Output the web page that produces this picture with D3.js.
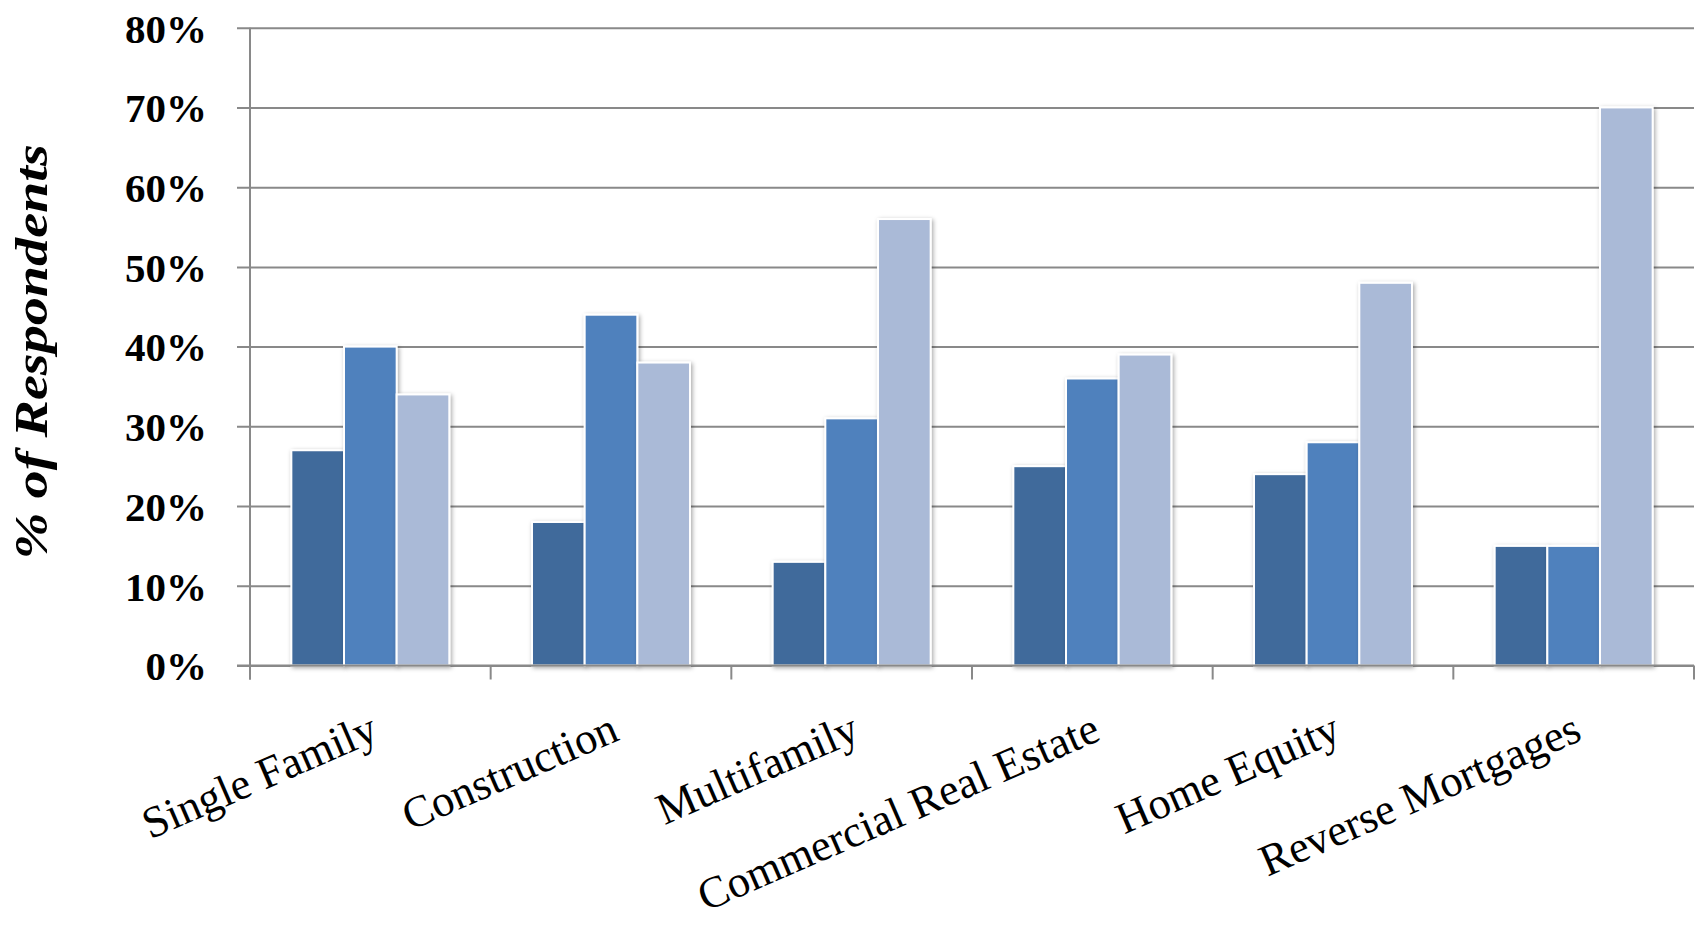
<!DOCTYPE html>
<html>
<head>
<meta charset="utf-8">
<script src="https://cdn.jsdelivr.net/npm/d3@7"></script>
<style>
  html, body { margin: 0; padding: 0; background: #ffffff; }
  svg { display: block; }
</style>
</head>
<body>
<svg id="chart" width="1698" height="925"></svg>
<script>
// Loan categories along the x axis
const categories = ["Single Family", "Construction", "Multifamily", "Commercial Real Estate", "Home Equity", "Reverse Mortgages"];

// Share of respondents (%) for each of the three response groups
const series1 = [27, 18, 13, 25, 24, 15];
const series2 = [40, 44, 31, 36, 28, 15];
const series3 = [34, 38, 56, 39, 48, 70];
const seriesKeys = ["series1", "series2", "series3"];
const seriesColors = ["#416a9b", "#4f81bd", "#aabad7"];

// Y axis ticks (percent)
const yTicks = [0, 10, 20, 30, 40, 50, 60, 70, 80];
const yTitle = "% of Respondents";

const rows = categories.map((c, i) => ({
  category: c,
  series1: series1[i],
  series2: series2[i],
  series3: series3[i]
}));

const svg = d3.select("#chart");
const fontFamily = "'Liberation Serif', 'Times New Roman', serif";

const plotLeft = 250, plotRight = 1694, plotTop = 27.7, plotBottom = 665.5;
const gridColor = "#898989";

const y = d3.scaleLinear().domain([0, 80]).range([plotBottom, plotTop]);

const x = d3.scaleBand()
  .domain(categories)
  .range([plotLeft, plotRight])
  .paddingInner(0.3436)
  .paddingOuter(0.3436 / 2);

const xs = d3.scaleBand()
  .domain(seriesKeys)
  .range([0, x.bandwidth()]);

const color = d3.scaleOrdinal().domain(seriesKeys).range(seriesColors);

// soft shadow under the bars
const defs = svg.append("defs");
const f = defs.append("filter").attr("id", "barShadow")
  .attr("x", "-20%").attr("y", "-5%").attr("width", "140%").attr("height", "115%");
f.append("feDropShadow")
  .attr("dx", 1.5).attr("dy", 1.5)
  .attr("stdDeviation", 2.2)
  .attr("flood-color", "#000").attr("flood-opacity", 0.35);

// Y axis with gridlines spanning the plot
const yAxis = d3.axisLeft(y)
  .tickValues(yTicks)
  .tickSizeInner(-(plotRight - 237))
  .tickSizeOuter(0)
  .tickPadding(30)
  .tickFormat(d => d + "%");

const gy = svg.append("g")
  .attr("transform", "translate(237,0)")
  .call(yAxis);
gy.select(".domain").remove();
gy.selectAll(".tick line")
  .attr("stroke", gridColor)
  .attr("stroke-width", 2);
gy.selectAll(".tick text")
  .attr("fill", "#000")
  .attr("font-family", fontFamily)
  .attr("font-weight", "bold")
  .attr("font-size", 41)
  .attr("dy", "0.35em");

// vertical axis line
svg.append("line")
  .attr("x1", plotLeft).attr("x2", plotLeft)
  .attr("y1", plotTop).attr("y2", plotBottom + 14)
  .attr("stroke", gridColor).attr("stroke-width", 2);

// bars
const groups = svg.append("g").selectAll("g")
  .data(rows)
  .join("g")
  .attr("transform", d => `translate(${x(d.category)},0)`);

groups.selectAll("rect")
  .data(d => seriesKeys.map(k => ({ key: k, value: d[k] })))
  .join("rect")
  .attr("x", d => xs(d.key))
  .attr("width", xs.bandwidth())
  .attr("y", d => y(d.value))
  .attr("height", d => y(0) - y(d.value))
  .attr("fill", d => color(d.key))
  .attr("stroke", "#ffffff")
  .attr("stroke-width", 2)
  .attr("filter", "url(#barShadow)");

// horizontal axis line with category boundary ticks
const gx = svg.append("g");
gx.append("line")
  .attr("x1", 237).attr("x2", plotRight)
  .attr("y1", y(0)).attr("y2", y(0))
  .attr("stroke", gridColor).attr("stroke-width", 2);
const boundaries = d3.range(categories.length + 1).map(i => plotLeft + i * x.step());
gx.selectAll("line.boundary")
  .data(boundaries)
  .join("line")
  .attr("class", "boundary")
  .attr("x1", d => d).attr("x2", d => d)
  .attr("y1", y(0)).attr("y2", y(0) + 14)
  .attr("stroke", gridColor).attr("stroke-width", 2);

// rotated category labels
svg.append("g").selectAll("text")
  .data(categories)
  .join("text")
  .attr("transform", d => `translate(${x(d) + x.bandwidth() / 2 + 2},721) rotate(-23.5)`)
  .attr("text-anchor", "end")
  .attr("dy", "0.45em")
  .attr("font-family", fontFamily)
  .attr("font-size", 44.5)
  .attr("fill", "#000")
  .text(d => d);

// y axis title
svg.append("text")
  .attr("transform", "translate(47,351.7) rotate(-90)")
  .attr("text-anchor", "middle")
  .attr("font-family", fontFamily)
  .attr("font-weight", "bold")
  .attr("font-style", "italic")
  .attr("font-size", 46)
  .attr("textLength", 415)
  .attr("lengthAdjust", "spacingAndGlyphs")
  .attr("fill", "#000")
  .text(yTitle);
</script>
</body>
</html>
